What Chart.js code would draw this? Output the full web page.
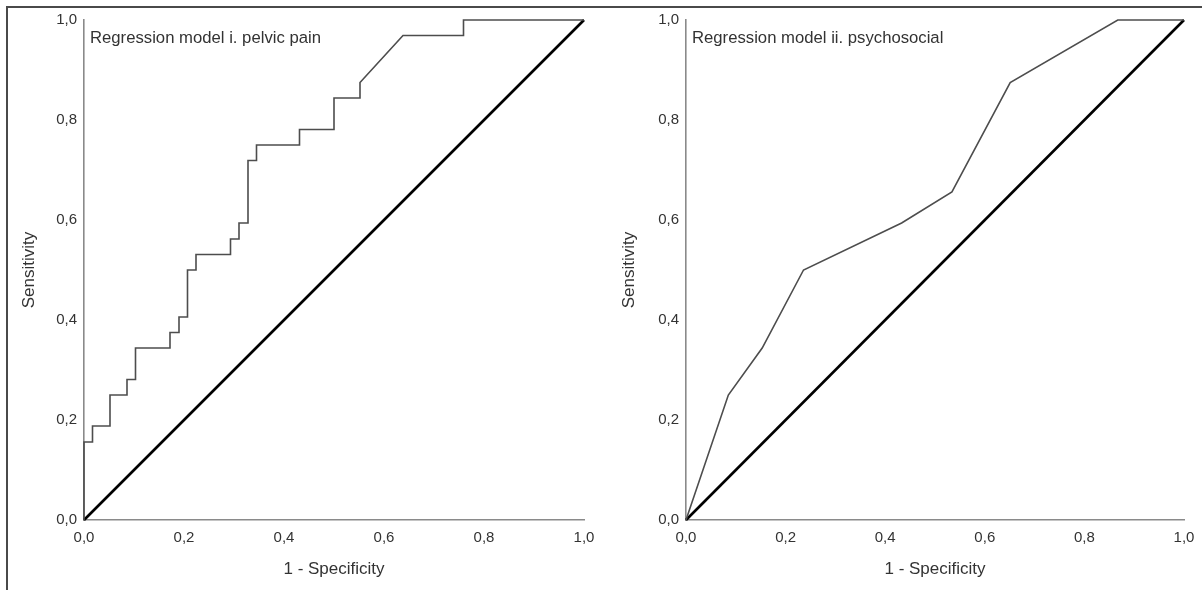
<!DOCTYPE html>
<html>
<head>
<meta charset="utf-8">
<script src="https://cdn.jsdelivr.net/npm/chart.js@4.4.1/dist/chart.umd.min.js"></script>
<style>
  html, body { margin: 0; padding: 0; background: #fff; }
  #page { position: relative; width: 1202px; height: 590px; overflow: hidden; }
  #frame { position: absolute; left: 6px; top: 6px; right: -4px; bottom: -4px;
           border-top: 2px solid #4a4a4a; border-left: 2px solid #4a4a4a; }
  canvas { position: absolute; top: 0; }
  #roc-left { left: 0; }
  #roc-right { left: 600px; }
</style>
</head>
<body>
<div id="page">
  <div id="frame"></div>
  <canvas id="roc-left" width="600" height="590"></canvas>
  <canvas id="roc-right" width="602" height="590"></canvas>
</div>
<script>
// ticks shared by both axes
const tick_values = [0, 0.2, 0.4, 0.6, 0.8, 1.0];

// model i. pelvic pain (step ROC curve, corners)
const pelvic_fpr = [0, 0, 0.017, 0.017, 0.052, 0.052, 0.086, 0.086, 0.103, 0.103, 0.172, 0.172, 0.19, 0.19,
  0.207, 0.207, 0.224, 0.224, 0.293, 0.293, 0.31, 0.31, 0.328, 0.328, 0.345, 0.345, 0.431, 0.431,
  0.5, 0.5, 0.552, 0.552, 0.638, 0.759, 0.759, 1.0];
const pelvic_tpr = [0, 0.156, 0.156, 0.188, 0.188, 0.25, 0.25, 0.281, 0.281, 0.344, 0.344, 0.375, 0.375, 0.406,
  0.406, 0.5, 0.5, 0.531, 0.531, 0.562, 0.562, 0.594, 0.594, 0.719, 0.719, 0.75, 0.75, 0.781,
  0.781, 0.844, 0.844, 0.875, 0.969, 0.969, 1.0, 1.0];

// model ii. psychosocial
const psycho_fpr = [0, 0.085, 0.153, 0.236, 0.433, 0.534, 0.651, 0.867, 1.0];
const psycho_tpr = [0, 0.25, 0.344, 0.5, 0.594, 0.656, 0.875, 1.0, 1.0];

// reference line
const ref_xy = [0, 1];

const toPoints = (xs, ys) => xs.map((x, i) => ({ x: x, y: ys[i] }));
const fmt = v => Number(v).toFixed(1).replace(".", ",");
const FONT = "'Liberation Sans', Arial, sans-serif";

// label inside the plot, top-left corner
const cornerLabel = {
  id: "cornerLabel",
  afterDatasetsDraw(chart, args, opts) {
    const { ctx, scales } = chart;
    ctx.save();
    ctx.font = "16.7px " + FONT;
    ctx.fillStyle = "#333";
    ctx.textBaseline = "middle";
    ctx.fillText(opts.text, scales.x.left + 6, scales.y.top + 18);
    ctx.restore();
  },
};

function makeRoc(id, fpr, tpr, label, yAxisWidth, padRight) {
  const ctx = document.getElementById(id).getContext("2d");
  return new Chart(ctx, {
    type: "line",
    data: {
      datasets: [
        {
          data: toPoints(fpr, tpr),
          borderColor: "#4d4d4d",
          borderWidth: 1.6,
          pointRadius: 0,
          tension: 0,
          clip: false,
        },
        {
          data: toPoints(ref_xy, ref_xy),
          borderColor: "#000",
          borderWidth: 2.6,
          pointRadius: 0,
          tension: 0,
          clip: false,
        },
      ],
    },
    options: {
      responsive: false,
      devicePixelRatio: 1,
      animation: false,
      layout: { padding: { top: 20, right: padRight, bottom: 0, left: 0 } },
      plugins: {
        legend: { display: false },
        tooltip: { enabled: false },
        cornerLabel: { text: label },
      },
      scales: {
        x: {
          type: "linear",
          min: 0,
          max: 1,
          afterBuildTicks: s => { s.ticks = tick_values.map(v => ({ value: v })); },
          afterFit: s => { s.height = 70; s.paddingLeft = 0; s.paddingRight = 0; },
          grid: { display: false, drawTicks: false },
          border: { display: true, color: "#8a8a8a", width: 1.6 },
          ticks: { padding: 9, color: "#333", font: { family: FONT, size: 15 }, callback: fmt, maxRotation: 0 },
          title: { display: true, text: "1 - Specificity", color: "#333", font: { family: FONT, size: 17 }, padding: { top: 0, bottom: 10 } },
        },
        y: {
          type: "linear",
          min: 0,
          max: 1,
          afterBuildTicks: s => { s.ticks = tick_values.map(v => ({ value: v })); },
          afterFit: s => { s.width = yAxisWidth; s.paddingTop = 0; s.paddingBottom = 0; },
          grid: { display: false, drawTicks: false },
          border: { display: true, color: "#8a8a8a", width: 1.6 },
          ticks: { padding: 7, color: "#333", font: { family: FONT, size: 15 }, callback: fmt },
          title: { display: true, text: "Sensitivity", color: "#333", font: { family: FONT, size: 17 }, padding: { top: 19, bottom: 0 } },
        },
      },
    },
    plugins: [cornerLabel],
  });
}

makeRoc("roc-left", pelvic_fpr, pelvic_tpr, "Regression model i. pelvic pain", 84, 16);
makeRoc("roc-right", psycho_fpr, psycho_tpr, "Regression model ii. psychosocial", 86, 18);
</script>
</body>
</html>
